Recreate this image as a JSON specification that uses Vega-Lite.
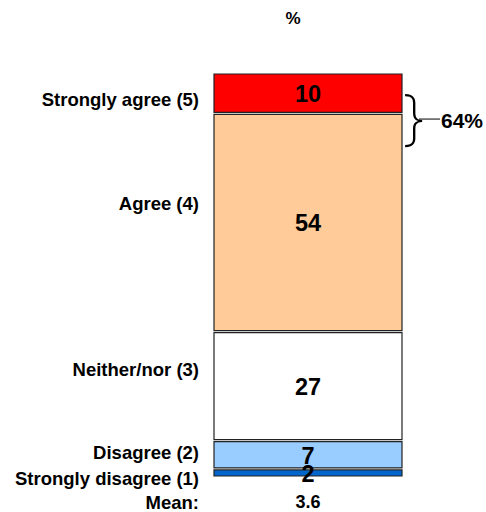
{
  "$schema": "https://vega.github.io/schema/vega-lite/v6.json",
  "width": 188,
  "height": 404,
  "autosize": {"type": "none"},
  "padding": {"left": 214, "top": 73, "right": 84, "bottom": 35},
  "background": "white",
  "config": {"view": {"stroke": null}, "font": "Liberation Sans"},
  "title": {"text": "%", "fontSize": 17, "fontWeight": "bold", "offset": 38, "dx": -15, "anchor": "middle", "frame": "group", "color": "black"},
  "datasets": {
    "resp": [
      {"response": "Strongly agree (5)", "rank": 5, "pct": 10},
      {"response": "Agree (4)", "rank": 4, "pct": 54},
      {"response": "Neither/nor (3)", "rank": 3, "pct": 27},
      {"response": "Disagree (2)", "rank": 2, "pct": 7},
      {"response": "Strongly disagree (1)", "rank": 1, "pct": 2}
    ],
    "summary": [
      {"meanLabel": "Mean:", "mean": "3.6", "top2": "64%"}
    ]
  },
  "layer": [
    {
      "data": {"name": "resp"},
      "transform": [
        {"stack": "pct", "groupby": [], "sort": [{"field": "rank", "order": "ascending"}], "as": ["y0", "y1"]}
      ],
      "mark": {"type": "rect", "stroke": "#222222", "strokeWidth": 1.2, "yOffset": 1, "y2Offset": -1},
      "encoding": {
        "x": {"datum": 0, "type": "quantitative", "scale": {"domain": [0, 1]}, "axis": null},
        "x2": {"datum": 1},
        "y": {"field": "y1", "type": "quantitative", "scale": {"domain": [0, 100]}, "axis": null},
        "y2": {"field": "y0"},
        "color": {"field": "response", "type": "nominal", "legend": null,
          "scale": {"domain": ["Strongly agree (5)", "Agree (4)", "Neither/nor (3)", "Disagree (2)", "Strongly disagree (1)"],
                    "range": ["#FF0000", "#FFCC99", "#FFFFFF", "#99CCFF", "#0066CC"]}}
      }
    },
    {
      "data": {"name": "resp"},
      "mark": {"type": "text", "align": "right", "baseline": "middle", "dx": -15, "dy": 7, "fontSize": 18.5, "fontWeight": "bold", "color": "black"},
      "encoding": {
        "x": {"datum": 0, "type": "quantitative"},
        "y": {"field": "pct", "type": "quantitative", "stack": "zero", "bandPosition": 0.5},
        "order": {"field": "rank", "sort": "ascending"},
        "text": {"condition": {"test": "datum.rank !== 5", "value": ""}, "field": "response"}
      }
    },
    {
      "data": {"name": "resp"},
      "mark": {"type": "text", "align": "right", "baseline": "middle", "dx": -15, "dy": -18, "fontSize": 18.5, "fontWeight": "bold", "color": "black"},
      "encoding": {
        "x": {"datum": 0, "type": "quantitative"},
        "y": {"field": "pct", "type": "quantitative", "stack": "zero", "bandPosition": 0.5},
        "order": {"field": "rank", "sort": "ascending"},
        "text": {"condition": {"test": "datum.rank !== 4", "value": ""}, "field": "response"}
      }
    },
    {
      "data": {"name": "resp"},
      "mark": {"type": "text", "align": "right", "baseline": "middle", "dx": -15, "dy": -16, "fontSize": 18.5, "fontWeight": "bold", "color": "black"},
      "encoding": {
        "x": {"datum": 0, "type": "quantitative"},
        "y": {"field": "pct", "type": "quantitative", "stack": "zero", "bandPosition": 0.5},
        "order": {"field": "rank", "sort": "ascending"},
        "text": {"condition": {"test": "datum.rank !== 3", "value": ""}, "field": "response"}
      }
    },
    {
      "data": {"name": "resp"},
      "mark": {"type": "text", "align": "right", "baseline": "middle", "dx": -15, "dy": -2, "fontSize": 18.5, "fontWeight": "bold", "color": "black"},
      "encoding": {
        "x": {"datum": 0, "type": "quantitative"},
        "y": {"field": "pct", "type": "quantitative", "stack": "zero", "bandPosition": 0.5},
        "order": {"field": "rank", "sort": "ascending"},
        "text": {"condition": {"test": "datum.rank !== 2", "value": ""}, "field": "response"}
      }
    },
    {
      "data": {"name": "resp"},
      "mark": {"type": "text", "align": "right", "baseline": "middle", "dx": -15, "dy": 6, "fontSize": 18.5, "fontWeight": "bold", "color": "black"},
      "encoding": {
        "x": {"datum": 0, "type": "quantitative"},
        "y": {"field": "pct", "type": "quantitative", "stack": "zero", "bandPosition": 0.5},
        "order": {"field": "rank", "sort": "ascending"},
        "text": {"condition": {"test": "datum.rank !== 1", "value": ""}, "field": "response"}
      }
    },
    {
      "data": {"name": "resp"},
      "mark": {"type": "text", "align": "center", "baseline": "middle", "dy": 2, "fontSize": 23.5, "fontWeight": "bold", "color": "black"},
      "encoding": {
        "x": {"datum": 0.5, "type": "quantitative"},
        "y": {"field": "pct", "type": "quantitative", "stack": "zero", "bandPosition": 0.5},
        "order": {"field": "rank", "sort": "ascending"},
        "text": {"field": "pct"}
      }
    },
    {
      "data": {"name": "summary"},
      "mark": {"type": "text", "align": "right", "baseline": "middle", "dx": -15, "dy": 26, "fontSize": 18.5, "fontWeight": "bold", "color": "black"},
      "encoding": {
        "x": {"datum": 0, "type": "quantitative"},
        "y": {"datum": 0, "type": "quantitative"},
        "text": {"field": "meanLabel"}
      }
    },
    {
      "data": {"name": "summary"},
      "mark": {"type": "text", "align": "center", "baseline": "middle", "dy": 26, "fontSize": 18, "fontWeight": "bold", "color": "black"},
      "encoding": {
        "x": {"datum": 0.5, "type": "quantitative"},
        "y": {"datum": 0, "type": "quantitative"},
        "text": {"field": "mean"}
      }
    },
    {
      "data": {"name": "summary"},
      "mark": {"type": "text", "align": "left", "baseline": "middle", "dx": 1, "fontSize": 60, "font": "'DejaVu Sans ExtraLight', 'Noto Sans', 'DejaVu Sans'", "fontWeight": 200, "color": "black"},
      "encoding": {
        "x": {"datum": 1, "type": "quantitative"},
        "y": {"datum": 88.3, "type": "quantitative"},
        "text": {"value": "}"}
      }
    },
    {
      "data": {"name": "summary"},
      "mark": {"type": "rule", "color": "black", "strokeWidth": 1, "xOffset": 17, "x2Offset": 38},
      "encoding": {
        "x": {"datum": 1, "type": "quantitative"},
        "x2": {"datum": 1},
        "y": {"datum": 88.6, "type": "quantitative"}
      }
    },
    {
      "data": {"name": "summary"},
      "mark": {"type": "text", "align": "left", "baseline": "middle", "dx": 39, "dy": 2, "fontSize": 21, "fontWeight": "bold", "color": "black"},
      "encoding": {
        "x": {"datum": 1, "type": "quantitative"},
        "y": {"datum": 88.3, "type": "quantitative"},
        "text": {"field": "top2"}
      }
    }
  ]
}
